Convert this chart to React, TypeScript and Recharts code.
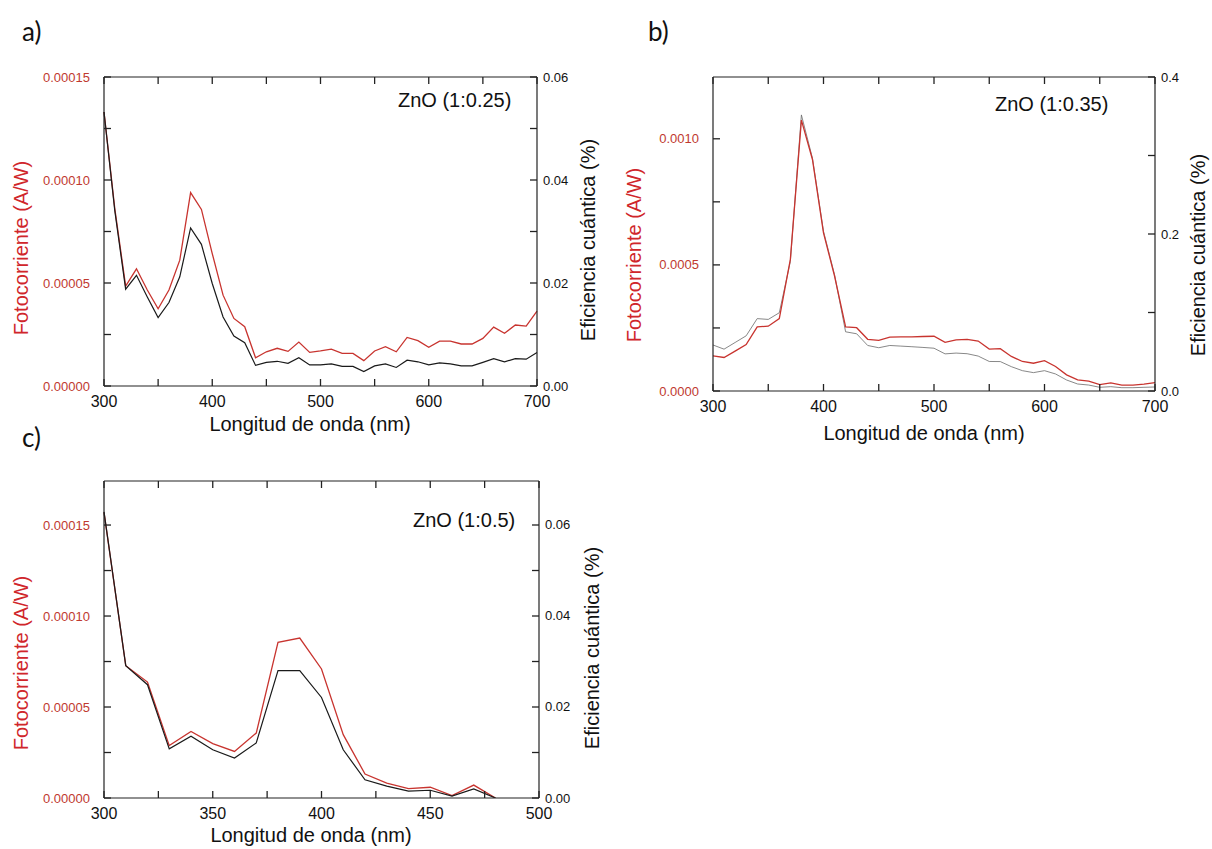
import React from 'react';
import { LineChart, Line, XAxis, YAxis } from 'recharts';

// wavelengths (nm)
const WL_AB = [
  300, 310, 320, 330, 340, 350, 360, 370, 380, 390, 400, 410, 420, 430, 440, 450, 460, 470, 480, 490, 500,
  510, 520, 530, 540, 550, 560, 570, 580, 590, 600, 610, 620, 630, 640, 650, 660, 670, 680, 690, 700,
];
const WL_C = [300, 310, 320, 330, 340, 350, 360, 370, 380, 390, 400, 410, 420, 430, 440, 450, 460, 470, 480];

// a) ZnO (1:0.25)
const A_PHOTO = [
  1.33e-4, 8.6e-5, 4.85e-5, 5.69e-5, 4.66e-5, 3.75e-5, 4.66e-5, 6.11e-5, 9.39e-5, 8.57e-5, 6.43e-5,
  4.41e-5, 3.28e-5, 2.88e-5, 1.37e-5, 1.66e-5, 1.83e-5, 1.68e-5, 2.13e-5, 1.63e-5, 1.7e-5,
  1.79e-5, 1.58e-5, 1.58e-5, 1.23e-5, 1.7e-5, 1.91e-5, 1.66e-5, 2.36e-5, 2.2e-5, 1.88e-5,
  2.18e-5, 2.18e-5, 2.04e-5, 2.04e-5, 2.31e-5, 2.86e-5, 2.56e-5, 2.96e-5, 2.91e-5, 3.64e-5,
];
const A_EFF = [
  0.0532, 0.034, 0.0188, 0.0215, 0.0173, 0.0133, 0.0162, 0.0212, 0.0307, 0.0275, 0.0199,
  0.0134, 0.0097, 0.0084, 0.004, 0.0046, 0.0048, 0.0044, 0.0055, 0.0041, 0.0041,
  0.0043, 0.0038, 0.0038, 0.0028, 0.0039, 0.0043, 0.0036, 0.005, 0.0047, 0.0041,
  0.0045, 0.0043, 0.0039, 0.0039, 0.0046, 0.0053, 0.0047, 0.0053, 0.0052, 0.0065,
];

// b) ZnO (1:0.35)
const B_PHOTO = [
  1.39e-4, 1.33e-4, 1.58e-4, 1.84e-4, 2.54e-4, 2.57e-4, 2.87e-4, 5.22e-4, 1.074e-3, 9.18e-4, 6.27e-4,
  4.56e-4, 2.54e-4, 2.51e-4, 2.05e-4, 2.01e-4, 2.14e-4, 2.15e-4, 2.15e-4, 2.16e-4, 2.17e-4,
  1.93e-4, 2.03e-4, 2.05e-4, 1.98e-4, 1.66e-4, 1.68e-4, 1.37e-4, 1.17e-4, 1.1e-4, 1.2e-4,
  9.7e-5, 6.4e-5, 4.4e-5, 3.9e-5, 2.5e-5, 3.2e-5, 2.3e-5, 2.3e-5, 2.7e-5, 3.3e-5,
];
const B_EFF = [
  0.0586, 0.0533, 0.0618, 0.0703, 0.0922, 0.0912, 0.0997, 0.165, 0.3517, 0.2966, 0.2034,
  0.148, 0.0754, 0.0729, 0.058, 0.0551, 0.058, 0.0572, 0.0564, 0.0555, 0.0545,
  0.0473, 0.0483, 0.0475, 0.0445, 0.0376, 0.0375, 0.031, 0.0259, 0.0234, 0.0259,
  0.0217, 0.014, 0.0089, 0.0076, 0.0047, 0.0055, 0.0042, 0.0042, 0.0047, 0.0051,
];

// c) ZnO (1:0.5)
const C_PHOTO = [
  1.57e-4, 7.27e-5, 6.37e-5, 2.88e-5, 3.66e-5, 2.99e-5, 2.56e-5, 3.57e-5, 8.55e-5, 8.79e-5,
  7.09e-5, 3.48e-5, 1.32e-5, 8.2e-6, 5.1e-6, 5.9e-6, 1.3e-6, 7.1e-6, 0,
];
const C_EFF = [
  0.0629, 0.0291, 0.0249, 0.0108, 0.0136, 0.0106, 0.0088, 0.0121, 0.028, 0.028,
  0.0221, 0.0106, 0.004, 0.0026, 0.0015, 0.0017, 0.0004, 0.002, 0,
];

// ticks (major + minor)
const X_TICKS_AB = [300, 350, 400, 450, 500, 550, 600, 650, 700];
const X_MAJOR_AB = [300, 400, 500, 600, 700];
const X_TICKS_C = [300, 325, 350, 375, 400, 425, 450, 475, 500];
const X_MAJOR_C = [300, 350, 400, 450, 500];
const YL_TICKS_AC = [0, 0.000025, 0.00005, 0.000075, 0.0001, 0.000125, 0.00015];
const YL_MAJOR_AC = [0, 0.00005, 0.0001, 0.00015];
const YR_TICKS_AC = [0, 0.01, 0.02, 0.03, 0.04, 0.05, 0.06];
const YR_MAJOR_AC = [0, 0.02, 0.04, 0.06];
const YL_TICKS_B = [0, 0.00025, 0.0005, 0.00075, 0.001];
const YL_MAJOR_B = [0, 0.0005, 0.001];
const YR_TICKS_B = [0, 0.1, 0.2, 0.3, 0.4];
const YR_MAJOR_B = [0, 0.2, 0.4];

const RED = '#c8342f';
const RED_TEXT = '#c0392f';
const FRAME = '#222';
const FONT = '"Liberation Sans", Arial, sans-serif';
const TICK_LEN = 7;

type Side = 'left' | 'right' | 'bottom' | 'top';

// labels only; the inward tick marks are the axis' own tick lines (negative tickSize)
function makeLabel(side: Side, majors: number[], digits: number, color: string, fontSize: number) {
  return (props: any) => {
    const x = Number(props.x);
    const y = Number(props.y);
    const v = Number(props.payload.value);
    const major = majors.some((m) => Math.abs(m - v) < 1e-12);
    if (!major || side === 'top') return <g />;
    const txt = v.toFixed(digits);
    if (side === 'left') {
      return <text x={x} y={y + 4.5} textAnchor="end" fill={color} fontSize={fontSize} fontFamily={FONT}>{txt}</text>;
    }
    if (side === 'right') {
      return <text x={x} y={y + 4.5} textAnchor="start" fill={color} fontSize={fontSize} fontFamily={FONT}>{txt}</text>;
    }
    return <text x={x} y={y + 21} textAnchor="middle" fill={color} fontSize={fontSize} fontFamily={FONT}>{txt}</text>;
  };
}

type PanelProps = {
  left: number; top: number; width: number; height: number;
  marginTop: number; leftW: number; rightW: number;
  wl: number[]; photo: number[]; eff: number[];
  xDomain: [number, number]; xTicks: number[]; xMajor: number[];
  ylDomain: [number, number]; ylTicks: number[]; ylMajor: number[]; ylDigits: number;
  yrDomain: [number, number]; yrTicks: number[]; yrMajor: number[]; yrDigits: number;
  effColor: string; effWidth: number; effBelow: boolean;
};

const AXIS_LINE = { stroke: FRAME, strokeWidth: 1.2 };
const TICK_LINE = { stroke: FRAME, strokeWidth: 1.3 };

function Panel(p: PanelProps) {
  const data = p.wl.map((w, i) => ({ wl: w, photo: p.photo[i], eff: p.eff[i] }));
  const photoLine = (
    <Line key="photo" xAxisId="bottom" yAxisId="l" dataKey="photo" stroke={RED} strokeWidth={1.3} dot={false} isAnimationActive={false} />
  );
  // the efficiency series is mapped through the (identical) top axis so it is drawn too
  const effLine = (
    <Line key="eff" xAxisId="top" yAxisId="r" dataKey="eff" stroke={p.effColor} strokeWidth={p.effWidth} dot={false} isAnimationActive={false} />
  );
  return (
    <div style={{ position: 'absolute', left: p.left, top: p.top }}>
      <LineChart width={p.width} height={p.height} data={data} margin={{ top: p.marginTop - 1, right: 0, bottom: 0, left: 0 }}>
        <XAxis
          xAxisId="bottom" dataKey="wl" type="number" domain={p.xDomain} ticks={p.xTicks} interval={0} height={40}
          axisLine={AXIS_LINE} tickLine={TICK_LINE} tickSize={-TICK_LEN} tickMargin={TICK_LEN}
          tick={makeLabel('bottom', p.xMajor, 0, '#111', 16)}
        />
        <XAxis
          xAxisId="top" orientation="top" dataKey="wl" type="number" domain={p.xDomain} ticks={p.xTicks} interval={0} height={1}
          axisLine={AXIS_LINE} tickLine={TICK_LINE} tickSize={-TICK_LEN} tickMargin={0}
          tick={makeLabel('top', p.xMajor, 0, '#111', 16)}
        />
        <YAxis
          yAxisId="l" type="number" domain={p.ylDomain} ticks={p.ylTicks} interval={0} width={p.leftW} allowDataOverflow
          axisLine={AXIS_LINE} tickLine={TICK_LINE} tickSize={-TICK_LEN} tickMargin={TICK_LEN + 14}
          tick={makeLabel('left', p.ylMajor, p.ylDigits, RED_TEXT, 13)}
        />
        <YAxis
          yAxisId="r" orientation="right" type="number" domain={p.yrDomain} ticks={p.yrTicks} interval={0} width={p.rightW} allowDataOverflow
          axisLine={AXIS_LINE} tickLine={TICK_LINE} tickSize={-TICK_LEN} tickMargin={TICK_LEN + 6}
          tick={makeLabel('right', p.yrMajor, p.yrDigits, '#111', 13)}
        />
        {p.effBelow ? [effLine, photoLine] : [photoLine, effLine]}
      </LineChart>
    </div>
  );
}

const TITLE = { fontFamily: FONT, fontSize: 20 };
const PANEL_LABEL = { fontFamily: 'Lato, "Open Sans", sans-serif', fontSize: 26, fill: '#111' };

export default function App() {
  return (
    <div style={{ position: 'absolute', left: 0, top: 0, width: 1212, height: 849, background: '#fff', overflow: 'hidden' }}>
      <Panel
        left={0} top={60} width={600} height={366} marginTop={17} leftW={104} rightW={63}
        wl={WL_AB} photo={A_PHOTO} eff={A_EFF}
        xDomain={[300, 700]} xTicks={X_TICKS_AB} xMajor={X_MAJOR_AB}
        ylDomain={[0, 0.00015]} ylTicks={YL_TICKS_AC} ylMajor={YL_MAJOR_AC} ylDigits={5}
        yrDomain={[0, 0.06]} yrTicks={YR_TICKS_AC} yrMajor={YR_MAJOR_AC} yrDigits={2}
        effColor="#1a1a1a" effWidth={1.2} effBelow={false}
      />
      <Panel
        left={600} top={60} width={612} height={371} marginTop={17} leftW={113} rightW={57}
        wl={WL_AB} photo={B_PHOTO} eff={B_EFF}
        xDomain={[300, 700]} xTicks={X_TICKS_AB} xMajor={X_MAJOR_AB}
        ylDomain={[0, 0.001245]} ylTicks={YL_TICKS_B} ylMajor={YL_MAJOR_B} ylDigits={4}
        yrDomain={[0, 0.4]} yrTicks={YR_TICKS_B} yrMajor={YR_MAJOR_B} yrDigits={1}
        effColor="#6a6a6a" effWidth={0.8} effBelow={true}
      />
      <Panel
        left={0} top={460} width={600} height={378} marginTop={21} leftW={104} rightW={61}
        wl={WL_C} photo={C_PHOTO} eff={C_EFF}
        xDomain={[300, 500]} xTicks={X_TICKS_C} xMajor={X_MAJOR_C}
        ylDomain={[0, 0.0001742]} ylTicks={YL_TICKS_AC} ylMajor={YL_MAJOR_AC} ylDigits={5}
        yrDomain={[0, 0.06967]} yrTicks={YR_TICKS_AC} yrMajor={YR_MAJOR_AC} yrDigits={2}
        effColor="#1a1a1a" effWidth={1.2} effBelow={false}
      />
      <svg width={1212} height={849} style={{ position: 'absolute', left: 0, top: 0, pointerEvents: 'none' }}>
        <text x={22} y={41} {...PANEL_LABEL}>a)</text>
        <text x={648} y={41} {...PANEL_LABEL}>b)</text>
        <text x={22} y={447} {...PANEL_LABEL}>c)</text>

        <text x={398} y={107} fill="#111" {...TITLE}>ZnO (1:0.25)</text>
        <text x={995} y={111} fill="#111" {...TITLE}>ZnO (1:0.35)</text>
        <text x={413} y={527} fill="#111" {...TITLE}>ZnO (1:0.5)</text>

        <text transform="translate(21,248) rotate(-90)" textAnchor="middle" dominantBaseline="central" fill="#d0262b" {...TITLE}>Fotocorriente (A/W)</text>
        <text transform="translate(588,240) rotate(-90)" textAnchor="middle" dominantBaseline="central" fill="#111" {...TITLE}>Eficiencia cuántica (%)</text>
        <text x={310} y={424} textAnchor="middle" dominantBaseline="central" fill="#111" {...TITLE}>Longitud de onda (nm)</text>

        <text transform="translate(634,255) rotate(-90)" textAnchor="middle" dominantBaseline="central" fill="#d0262b" {...TITLE}>Fotocorriente (A/W)</text>
        <text transform="translate(1198,255) rotate(-90)" textAnchor="middle" dominantBaseline="central" fill="#111" {...TITLE}>Eficiencia cuántica (%)</text>
        <text x={924} y={433} textAnchor="middle" dominantBaseline="central" fill="#111" {...TITLE}>Longitud de onda (nm)</text>

        <text transform="translate(21,663) rotate(-90)" textAnchor="middle" dominantBaseline="central" fill="#d0262b" {...TITLE}>Fotocorriente (A/W)</text>
        <text transform="translate(592,648) rotate(-90)" textAnchor="middle" dominantBaseline="central" fill="#111" {...TITLE}>Eficiencia cuántica (%)</text>
        <text x={311} y={835} textAnchor="middle" dominantBaseline="central" fill="#111" {...TITLE}>Longitud de onda (nm)</text>
      </svg>
    </div>
  );
}
